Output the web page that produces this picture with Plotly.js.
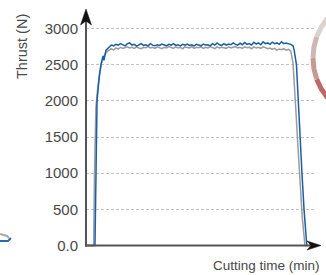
<!DOCTYPE html>
<html>
<head>
<meta charset="utf-8">
<script src="https://cdn.plot.ly/plotly-3.0.1.min.js"></script>
<style>html,body{margin:0;padding:0;background:#fff;}#chart{width:326px;height:275px;}</style>
</head>
<body>
<div id="chart"></div>
<script>
// ---- data (time in min, thrust in N) ----
var plateauT = [1.0,1.1,1.2,1.3,1.4,1.5,1.6,1.7,1.8,1.9,2.0,2.1,2.2,2.3,2.4,2.5,2.6,2.7,2.8,2.9,3.0,3.1,3.2,3.3,3.4,3.5,3.6,3.7,3.8,3.9,4.0,4.1,4.2,4.3,4.4,4.5,4.6,4.7,4.8,4.9,5.0,5.1,5.2,5.3,5.4,5.5,5.6,5.7,5.8,5.9,6.0,6.1,6.2,6.3,6.4,6.5,6.6,6.7,6.8,6.9,7.0,7.1,7.2,7.3,7.4,7.5,7.6,7.7,7.8,7.9,8.0,8.1,8.2,8.3,8.4,8.5,8.6,8.7,8.8,8.9,9.0];

var blueRiseT = [0, 0.39, 0.435, 0.48, 0.565, 0.65, 0.74, 0.78, 0.87, 0.96];
var blueRiseV = [0, 0, 1000, 2000, 2300, 2500, 2620, 2560, 2700, 2740];
var bluePlateauV = [2740,2770,2760,2780,2770,2790,2775,2760,2790,2800,2770,2780,2755,2770,2790,2765,2775,2760,2790,2770,2760,2775,2765,2785,2770,2760,2780,2770,2790,2765,2775,2760,2780,2770,2785,2765,2775,2760,2780,2770,2760,2785,2770,2775,2760,2790,2770,2800,2775,2765,2790,2770,2785,2775,2800,2780,2770,2795,2775,2805,2780,2790,2770,2810,2785,2800,2775,2815,2790,2800,2780,2810,2790,2800,2780,2815,2790,2800,2795,2780,2760];
var blueDropT = [9.05, 9.15, 9.22, 9.3, 9.39, 9.48, 9.6, 9.65];
var blueDropV = [2700, 2500, 2000, 1500, 1000, 500, 0, 0];

var grayRiseT = [0, 0.33, 0.37, 0.43, 0.5, 0.6, 0.7, 0.83, 0.95];
var grayRiseV = [0, 0, 1000, 1900, 2150, 2400, 2550, 2650, 2690];
var grayPlateauV = [2700,2720,2700,2730,2715,2740,2725,2735,2745,2730,2740,2725,2745,2730,2720,2740,2735,2750,2730,2740,2725,2745,2735,2720,2740,2730,2750,2735,2725,2745,2730,2740,2720,2745,2735,2730,2750,2725,2740,2735,2745,2725,2740,2730,2750,2735,2720,2745,2730,2740,2735,2725,2745,2730,2740,2750,2730,2740,2725,2745,2735,2740,2720,2745,2730,2740,2725,2745,2735,2720,2730,2710,2725,2700,2715,2705,2720,2700,2710,2690,2520];
var grayDropT = [9.05, 9.1, 9.2, 9.3, 9.4, 9.52, 9.58];
var grayDropV = [2300, 2000, 1450, 900, 400, 0, 0];

var yTickVals = [0, 500, 1000, 1500, 2000, 2500, 3000];
var yTickText = ['0.0', '500', '1000', '1500', '2000', '2500', '3000'];
var yTitle = 'Thrust (N)';
var xTitle = 'Cutting time (min)';

// ---- layout helpers (pixel -> paper) ----
var W = 326, H = 275, L = 86, R = 10, T = 27, B = 28;
var PW = W - L - R, PH = H - T - B;
function px(x) { return (x - L) / PW; }
function py(y) { return (H - B - y) / PH; }
function path(pts, close) {
  var s = '';
  for (var i = 0; i < pts.length; i++) {
    s += (i === 0 ? 'M' : 'L') + px(pts[i][0]).toFixed(5) + ',' + py(pts[i][1]).toFixed(5) + ' ';
  }
  return s + (close ? 'Z' : '');
}

var FONT = 'Liberation Sans, Arial, sans-serif';
var TXT = '#484848';

var traces = [
  {x: grayRiseT.concat(plateauT, grayDropT), y: grayRiseV.concat(grayPlateauV, grayDropV),
   type: 'scatter', mode: 'lines', line: {color: '#9c9c9c', width: 1.5}, hoverinfo: 'skip'},
  {x: blueRiseT.concat(plateauT, blueDropT), y: blueRiseV.concat(bluePlateauV, blueDropV),
   type: 'scatter', mode: 'lines', line: {color: '#1a5ea8', width: 1.5}, hoverinfo: 'skip'}
];

var shapes = [
  // y axis line and arrow
  {type: 'path', xref: 'paper', yref: 'paper', path: path([[86, 246.5], [86, 20]]), line: {color: '#555', width: 2}},
  {type: 'path', xref: 'paper', yref: 'paper', path: path([[86, 9], [80.5, 25], [86, 21], [91.5, 25]], true), fillcolor: '#111', line: {color: '#111', width: 0.5}},
  // x axis line and arrow
  {type: 'path', xref: 'paper', yref: 'paper', path: path([[85, 245.5], [312, 245.5]]), line: {color: '#555', width: 2}},
  {type: 'path', xref: 'paper', yref: 'paper', path: path([[321, 245.5], [307, 241], [311, 245.5], [307, 250]], true), fillcolor: '#111', line: {color: '#111', width: 0.5}},
  // decorative arc on the right edge
  {type: 'path', xref: 'paper', yref: 'paper', path: path([[327.5, 18.1], [321.3, 27], [316.7, 36.8]]), line: {color: '#dcd2cf', width: 5}},
  {type: 'path', xref: 'paper', yref: 'paper', path: path([[316.7, 36.8], [313.9, 47.2], [313, 58]]), line: {color: '#cdb8b4', width: 5}},
  {type: 'path', xref: 'paper', yref: 'paper', path: path([[313, 58], [313.9, 68.8], [316.7, 79.2]]), line: {color: '#c59a96', width: 5}},
  {type: 'path', xref: 'paper', yref: 'paper', path: path([[316.7, 79.2], [321.3, 89], [327.5, 97.9]]), line: {color: '#c06868', width: 5}},
  // small icon fragment bottom-left
  {type: 'path', xref: 'paper', yref: 'paper', path: path([[0, 234], [7, 236], [9, 238]]), line: {color: '#aaaaaa', width: 2}},
  {type: 'path', xref: 'paper', yref: 'paper', path: path([[0, 241], [8, 241], [11, 238]]), line: {color: '#2a6bb0', width: 2}}
];

var layout = {
  width: W, height: H,
  margin: {l: L, r: R, t: T, b: B, pad: 0},
  paper_bgcolor: '#ffffff', plot_bgcolor: '#ffffff',
  showlegend: false,
  font: {family: FONT, color: TXT},
  xaxis: {range: [0, 10], showgrid: false, zeroline: false, showline: false, showticklabels: false, ticks: '', fixedrange: true},
  yaxis: {range: [-20, 3020], tickvals: yTickVals, ticktext: yTickText, showgrid: true, gridcolor: '#c4c4c4', gridwidth: 1, griddash: '3px,2px',
          zeroline: false, showline: false, ticks: '', ticklabelstandoff: 7, tickfont: {family: FONT, size: 15, color: TXT}, fixedrange: true},
  shapes: shapes,
  annotations: [
    {text: yTitle, xref: 'paper', yref: 'paper', x: px(22), y: py(47), textangle: -90, showarrow: false,
     xanchor: 'center', yanchor: 'middle', font: {family: FONT, size: 14.5, color: TXT}},
    {text: xTitle, xref: 'paper', yref: 'paper', x: px(322), y: py(265), showarrow: false,
     xanchor: 'right', yanchor: 'middle', font: {family: FONT, size: 13.5, color: TXT}}
  ]
};

Plotly.newPlot('chart', traces, layout, {staticPlot: true, displayModeBar: false});
</script>
</body>
</html>
